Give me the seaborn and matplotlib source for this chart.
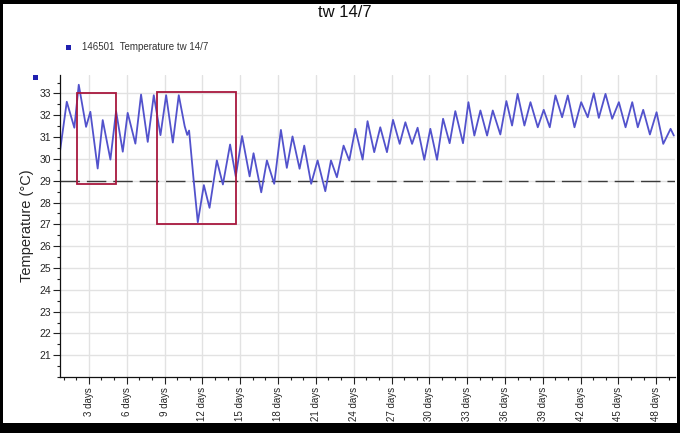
import matplotlib
matplotlib.use("Agg")
import matplotlib.pyplot as plt
from matplotlib.patches import Rectangle
from matplotlib.ticker import MultipleLocator, FixedLocator, FuncFormatter
import seaborn as sns
import pandas as pd

# ---- data ----
day = [0.7, 1.25, 1.85, 2.2, 2.78, 3.12, 3.7, 4.1, 4.71, 5.16, 5.69, 6.08, 6.69, 7.14,
       7.67, 8.15, 8.68, 9.13, 9.66, 10.13, 10.6, 10.8, 10.95, 11.3, 11.64, 12.12, 12.57,
       13.15, 13.63, 14.2, 14.65, 15.15, 15.75, 16.06, 16.67, 17.12, 17.7, 18.23, 18.7,
       19.15, 19.71, 20.08, 20.63, 21.14, 21.75, 22.2, 22.67, 23.2, 23.65, 24.13, 24.71,
       25.1, 25.63, 26.11, 26.64, 27.12, 27.65, 28.1, 28.63, 29.07, 29.6, 30.08, 30.61,
       31.09, 31.61, 32.06, 32.67, 33.1, 33.57, 34.05, 34.58, 35.03, 35.63, 36.11, 36.56,
       37.0, 37.54, 38.02, 38.6, 39.07, 39.55, 40.0, 40.53, 40.98, 41.51, 42.04, 42.56,
       43.04, 43.44, 43.97, 44.5, 45.03, 45.56, 46.09, 46.53, 46.96, 47.49, 48.02, 48.55,
       49.13, 49.39]
temperature = [30.3, 32.62, 31.43, 33.4, 31.47, 32.16, 29.56, 31.78, 29.97, 32.19, 30.33,
               32.11, 30.7, 32.95, 30.78, 32.92, 31.09, 32.92, 30.75, 32.92, 31.5, 31.1,
               31.3, 29.1, 27.1, 28.8, 27.76, 29.93, 28.83, 30.66, 29.2, 31.05, 29.2, 30.26,
               28.47, 29.93, 28.86, 31.33, 29.59, 31.03, 29.55, 30.61, 28.86, 29.93, 28.52,
               29.93, 29.16, 30.61, 29.93, 31.38, 29.97, 31.73, 30.31, 31.45, 30.31, 31.79,
               30.69, 31.68, 30.69, 31.43, 29.96, 31.38, 29.96, 31.84, 30.72, 32.19, 30.72,
               32.6, 31.07, 32.22, 31.07, 32.22, 31.12, 32.65, 31.53, 32.98, 31.53, 32.6,
               31.45, 32.25, 31.45, 32.91, 31.91, 32.91, 31.45, 32.6, 31.91, 33.01, 31.88,
               32.98, 31.84, 32.6, 31.45, 32.6, 31.45, 32.25, 31.12, 32.14, 30.69, 31.38,
               31.07]
x_ticks = [3, 6, 9, 12, 15, 18, 21, 24, 27, 30, 33, 36, 39, 42, 45, 48]
y_ticks = [21, 22, 23, 24, 25, 26, 27, 28, 29, 30, 31, 32, 33]
threshold = 29
# highlighted windows: (day start, day end, temp low, temp high)
box_days = [(2.05, 5.15), (8.4, 14.68)]
box_temps = [(28.83, 33.0), (27.0, 33.05)]
title = "tw 14/7"
series_name = "146501  Temperature tw 14/7"

sns.set_theme(style="white")
plt.rcParams["font.family"] = ["Liberation Sans", "DejaVu Sans"]

df = pd.DataFrame({"day": day, "temperature": temperature})

fig = plt.figure(figsize=(6.8, 4.33), dpi=100)
ax = fig.add_axes([0.088, 0.129, 0.905, 0.698])

ax.grid(True, which="major", color="#e2e2e2", linewidth=1.0)
ax.set_axisbelow(True)

sns.lineplot(data=df, x="day", y="temperature", ax=ax, color="#5252cc",
             linewidth=1.3, estimator=None, sort=False, legend=False,
             solid_joinstyle="round")

ax.axhline(threshold, color="#3a3a3a", linewidth=1.0, dashes=(14, 5), zorder=1)

for (d0, d1), (t0, t1) in zip(box_days, box_temps):
    ax.add_patch(Rectangle((d0, t0), d1 - d0, t1 - t0, fill=False,
                           edgecolor="#a8183e", linewidth=1.3, zorder=3))

ax.set_xlim(0.7, 49.5)
ax.set_ylim(20.0, 33.85)

ax.xaxis.set_major_locator(FixedLocator(x_ticks))
ax.xaxis.set_minor_locator(MultipleLocator(1))
ax.xaxis.set_major_formatter(FuncFormatter(lambda v, p: f"{int(round(v))} days"))
ax.yaxis.set_major_locator(FixedLocator(y_ticks))
ax.yaxis.set_minor_locator(MultipleLocator(0.5))

ax.tick_params(axis="x", which="major", length=5, width=0.8, color="#222222",
               labelsize=7, labelrotation=90, pad=2, bottom=True)
ax.tick_params(axis="x", which="minor", length=2.5, width=0.8, color="#222222", bottom=True)
ax.tick_params(axis="y", which="major", length=5, width=0.8, color="#222222",
               labelsize=7.5, pad=1, left=True)
ax.tick_params(axis="y", which="minor", length=2.5, width=0.8, color="#222222", left=True)
for lab in ax.get_xticklabels():
    lab.set_verticalalignment("top")

for side in ["top", "right"]:
    ax.spines[side].set_visible(False)
for side in ["left", "bottom"]:
    ax.spines[side].set_color("#111111")
    ax.spines[side].set_linewidth(0.9)

ax.set_xlabel("")
ax.set_ylabel("Temperature (°C)", fontsize=10.5, labelpad=4)

fig.text(0.507, 0.972, title, ha="center", va="center", fontsize=12, color="#111111")
fig.text(0.121, 0.891, series_name, ha="left", va="center", fontsize=7, color="#333333")
fig.add_artist(Rectangle((0.097, 0.884), 0.0075, 0.012, transform=fig.transFigure,
                         facecolor="#2020b0", edgecolor="none"))
fig.add_artist(Rectangle((0.049, 0.815), 0.0075, 0.012, transform=fig.transFigure,
                         facecolor="#2020b0", edgecolor="none"))

# black frame around the picture
for (x0, y0, w, h) in [(0, 0, 1, 0.022), (0, 0.99, 1, 0.01), (0, 0, 0.005, 1), (0.995, 0, 0.005, 1)]:
    fig.add_artist(Rectangle((x0, y0), w, h, transform=fig.transFigure,
                             facecolor="black", edgecolor="none"))

fig.savefig("out.png", dpi=100)
